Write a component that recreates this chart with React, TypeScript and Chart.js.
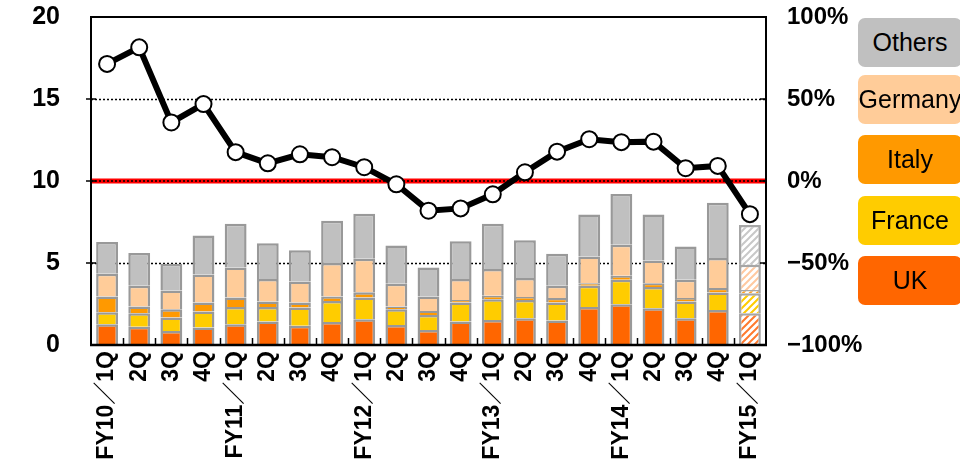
import React, { useEffect, useRef } from "react";
import { Chart, registerables } from "chart.js";

Chart.register(...registerables);

// ---------- data ----------
const categories = [
  "FY10／1Q", "2Q", "3Q", "4Q",
  "FY11／1Q", "2Q", "3Q", "4Q",
  "FY12／1Q", "2Q", "3Q", "4Q",
  "FY13／1Q", "2Q", "3Q", "4Q",
  "FY14／1Q", "2Q", "3Q", "4Q",
  "FY15／1Q",
];

const ukValues = [1.27, 1.12, 0.86, 1.06, 1.27, 1.43, 1.18, 1.41, 1.57, 1.22, 0.92, 1.43, 1.53, 1.63, 1.49, 2.31, 2.49, 2.24, 1.63, 2.14, 1.94];
const franceValues = [0.73, 0.82, 0.81, 0.98, 1.04, 0.88, 1.10, 1.28, 1.32, 0.96, 0.91, 1.16, 1.26, 1.12, 1.10, 1.30, 1.49, 1.29, 1.02, 1.06, 1.22];
const italyValues = [0.95, 0.40, 0.51, 0.55, 0.58, 0.34, 0.31, 0.26, 0.33, 0.16, 0.25, 0.16, 0.21, 0.17, 0.27, 0.16, 0.24, 0.24, 0.21, 0.27, 0.20];
const germanyValues = [1.39, 1.27, 1.14, 1.71, 1.84, 1.37, 1.28, 2.05, 2.04, 1.39, 0.87, 1.27, 1.63, 1.16, 0.75, 1.63, 1.90, 1.39, 1.12, 1.83, 1.53];
const othersValues = [1.94, 2.00, 1.63, 2.37, 2.67, 2.18, 1.90, 2.58, 2.75, 2.34, 1.78, 2.30, 2.77, 2.30, 1.96, 2.55, 3.08, 2.79, 2.03, 3.37, 2.43];

// year-on-year growth (%), right axis
const growthPct = [71.4, 81.5, 35.7, 46.9, 17.6, 10.8, 16.3, 14.5, 8.4, -2.0, -18.1, -16.7, -8.1, 5.3, 17.9, 25.5, 23.7, 24.0, 7.8, 9.2, -20.2];

// index of the forecast (hatched) bar
const forecastIndex = 20;

const leftTickValues = [0, 5, 10, 15, 20];
const rightTickValues = [-100, -50, 0, 50, 100];
const dottedGridValues = [5, 15];
const redLineValue = 10;

const seriesNames = ["UK", "France", "Italy", "Germany", "Others"];
const seriesColors = ["#FF6600", "#FFCC00", "#FF9900", "#FFCC99", "#C0C0C0"];
const hatchColors = ["#FF7A2E", "#FFCC00", "#FFA020", "#FFC9A0", "#C8C8C8"];
const seriesValues = [ukValues, franceValues, italyValues, germanyValues, othersValues];

const legendOrder = ["Others", "Germany", "Italy", "France", "UK"];

const FONT = "'Liberation Sans', 'Noto Sans CJK JP', Arial, sans-serif";

function makeHatch(color: string): CanvasPattern | string {
  const s = 7;
  const c = document.createElement("canvas");
  c.width = s;
  c.height = s;
  const g = c.getContext("2d");
  if (!g) return color;
  g.fillStyle = "#ffffff";
  g.fillRect(0, 0, s, s);
  g.strokeStyle = color;
  g.lineWidth = 2;
  g.beginPath();
  g.moveTo(0, s);
  g.lineTo(s, 0);
  g.moveTo(-s / 2, s / 2);
  g.lineTo(s / 2, -s / 2);
  g.moveTo(s / 2, s * 1.5);
  g.lineTo(s * 1.5, s / 2);
  g.stroke();
  const p = g.createPattern(c, "repeat");
  return p || color;
}

const framePlugin = {
  id: "customFrame",
  beforeDatasetsDraw(chart: any) {
    const { ctx, chartArea: a, scales } = chart;
    const y = scales.y;
    ctx.save();
    ctx.lineWidth = 1.5;
    ctx.strokeStyle = "#000";
    ctx.setLineDash([2, 2]);
    dottedGridValues.forEach((v) => {
      const py = Math.round(y.getPixelForValue(v)) + 0.5;
      ctx.beginPath();
      ctx.moveTo(a.left, py);
      ctx.lineTo(a.right, py);
      ctx.stroke();
    });
    const ry = y.getPixelForValue(redLineValue);
    ctx.setLineDash([]);
    ctx.strokeStyle = "#FF0000";
    ctx.lineWidth = 5;
    ctx.beginPath();
    ctx.moveTo(a.left, ry);
    ctx.lineTo(a.right, ry);
    ctx.stroke();
    ctx.strokeStyle = "#000";
    ctx.lineWidth = 1.5;
    ctx.setLineDash([2, 2]);
    ctx.beginPath();
    ctx.moveTo(a.left, ry);
    ctx.lineTo(a.right, ry);
    ctx.stroke();
    ctx.restore();
  },
  afterDatasetsDraw(chart: any) {
    const { ctx, chartArea: a, scales } = chart;
    const y = scales.y;
    const y2 = scales.y2;
    const n = categories.length;
    ctx.save();
    ctx.setLineDash([]);
    ctx.strokeStyle = "#000";
    ctx.lineWidth = 2;
    ctx.strokeRect(a.left, a.top, a.right - a.left, a.bottom - a.top);
    ctx.lineWidth = 2.5;
    ctx.beginPath();
    ctx.moveTo(a.left - 1, a.bottom);
    ctx.lineTo(a.right + 1, a.bottom);
    ctx.stroke();
    ctx.lineWidth = 1.5;
    ctx.beginPath();
    leftTickValues.slice(1, -1).forEach((v) => {
      const py = y.getPixelForValue(v);
      ctx.moveTo(a.left - 5, py);
      ctx.lineTo(a.left + 5, py);
    });
    rightTickValues.slice(1, -1).forEach((v) => {
      const py = y2.getPixelForValue(v);
      ctx.moveTo(a.right - 6, py);
      ctx.lineTo(a.right + 1, py);
    });
    const w = (a.right - a.left) / n;
    for (let i = 1; i < n; i++) {
      const px = Math.round(a.left + w * i) + 0.5;
      ctx.moveTo(px, a.bottom);
      ctx.lineTo(px, a.bottom - 7);
    }
    ctx.stroke();
    ctx.restore();
  },
};

function zeroPad(s: any) {
  s.paddingTop = 0;
  s.paddingBottom = 0;
  s.paddingLeft = 0;
  s.paddingRight = 0;
}

export default function App() {
  const canvasRef = useRef<HTMLCanvasElement | null>(null);

  useEffect(() => {
    const canvas = canvasRef.current;
    if (!canvas) return;

    const barDatasets = seriesValues.map((vals, si) => {
      const hatch = makeHatch(hatchColors[si]);
      return {
        type: "bar" as const,
        label: seriesNames[si],
        data: vals,
        yAxisID: "y",
        stack: "s",
        order: 1,
        backgroundColor: vals.map((_, i) => (i === forecastIndex ? hatch : seriesColors[si])),
        borderColor: vals.map((_, i) => (i === forecastIndex ? "#A6A6A6" : "#999999")),
        borderWidth: 2.5,
        borderSkipped: "start" as const,
        categoryPercentage: 1,
        barPercentage: 0.68,
      };
    });

    const chart = new Chart(canvas, {
      type: "bar",
      data: {
        labels: categories,
        datasets: [
          ...barDatasets,
          {
            type: "line" as const,
            label: "growth",
            data: growthPct,
            yAxisID: "y2",
            order: 0,
            borderColor: "#000",
            borderWidth: 6,
            tension: 0,
            pointRadius: 8,
            pointBorderWidth: 2,
            pointBackgroundColor: "#fff",
            pointBorderColor: "#000",
          } as any,
        ],
      },
      options: {
        responsive: false,
        animation: false,
        devicePixelRatio: 1,
        layout: { padding: { top: 17, left: 0, right: 0, bottom: 0 } },
        plugins: {
          legend: { display: false },
          tooltip: { enabled: false },
        },
        scales: {
          x: {
            type: "category",
            offset: true,
            grid: { display: false, drawTicks: false },
            border: { display: false },
            ticks: {
              autoSkip: false,
              minRotation: 90,
              maxRotation: 90,
              padding: 6,
              color: "#000",
              font: { family: FONT, size: 23, weight: "bold" },
            },
            afterFit: (s: any) => {
              s.height = 121;
              zeroPad(s);
            },
          },
          y: {
            position: "left",
            stacked: true,
            min: 0,
            max: 20,
            grid: { display: false, drawTicks: false },
            border: { display: false },
            ticks: {
              stepSize: 5,
              padding: 31,
              color: "#000",
              font: { family: FONT, size: 25, weight: "bold" },
            },
            afterFit: (s: any) => {
              s.width = 91;
              zeroPad(s);
            },
          },
          y2: {
            position: "right",
            min: -100,
            max: 100,
            grid: { display: false, drawTicks: false },
            border: { display: false },
            ticks: {
              stepSize: 50,
              padding: 21,
              color: "#000",
              font: { family: FONT, size: 24, weight: "bold" },
              callback: (v: any) => (Number(v) < 0 ? "−" + Math.abs(Number(v)) : String(v)) + "%",
            },
            afterFit: (s: any) => {
              s.width = 194;
              zeroPad(s);
            },
          },
        },
      },
      plugins: [framePlugin],
    } as any);

    return () => chart.destroy();
  }, []);

  const legendTops = [18, 75, 135, 196, 256];

  return (
    <div
      style={{
        position: "fixed",
        left: 0,
        top: 0,
        width: 960,
        height: 466,
        overflow: "hidden",
        background: "#fff",
      }}
    >
      <canvas ref={canvasRef} width={960} height={466} style={{ width: 960, height: 466, display: "block" }} />
      {legendOrder.map((name, i) => {
        const idx = seriesNames.indexOf(name);
        return (
          <div
            key={name}
            style={{
              position: "absolute",
              left: 858,
              top: legendTops[i],
              width: 104,
              height: 49,
              borderRadius: 7,
              background: seriesColors[idx],
              display: "flex",
              alignItems: "center",
              justifyContent: "center",
              fontFamily: FONT,
              fontSize: 25,
              color: "#000",
              whiteSpace: "nowrap",
            }}
          >
            {name}
          </div>
        );
      })}
    </div>
  );
}
